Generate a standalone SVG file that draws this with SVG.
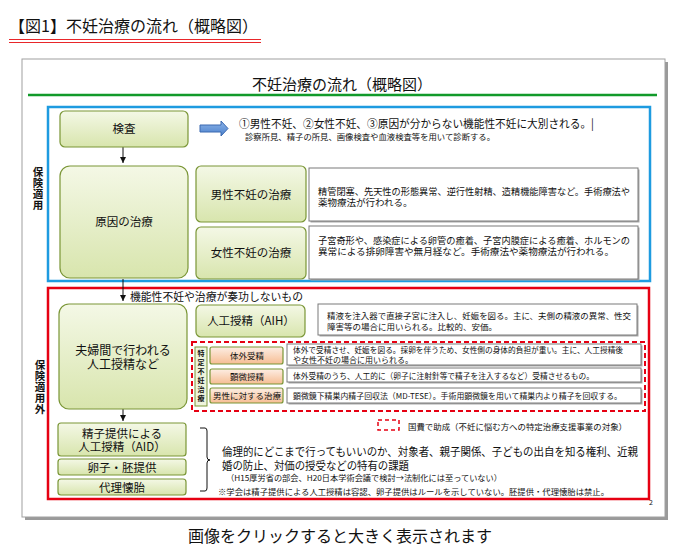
<svg xmlns="http://www.w3.org/2000/svg" width="690" height="550" viewBox="0 0 690 550">
<style>
text{font-family:"Noto Sans CJK JP","Noto Sans CJK SC",sans-serif;fill:#111}
.node{fill:url(#gGreen);stroke:#7a9636;stroke-width:1.2}
.orange{fill:url(#gOrange);stroke:#7a9636;stroke-width:1.2}
.desc{fill:#fff;stroke:#7a7a7a;stroke-width:1}
.shadow{fill:#a8a8a8}
.lbl{font-size:11.5px;text-anchor:middle}
.d{font-size:9.5px}
.s{font-size:8px}
.side{font-size:10.5px;font-weight:bold;writing-mode:vertical-rl;letter-spacing:0.5px}
.conn{stroke:#111;stroke-width:1;fill:none;marker-end:url(#ah)}
</style>
<defs>
<linearGradient id="gGreen" x1="0" y1="0" x2="0" y2="1">
<stop offset="0" stop-color="#f4f8e6"/><stop offset="1" stop-color="#d8e5ad"/>
</linearGradient>
<linearGradient id="gOrange" x1="0" y1="0" x2="0" y2="1">
<stop offset="0" stop-color="#fdeee4"/><stop offset="1" stop-color="#f6bd93"/>
</linearGradient>
<linearGradient id="gBlue" x1="0" y1="0" x2="0" y2="1">
<stop offset="0" stop-color="#8db4e8"/><stop offset="1" stop-color="#4a80cc"/>
</linearGradient>
<marker id="ah" markerWidth="8" markerHeight="8" refX="6" refY="3" orient="auto" markerUnits="userSpaceOnUse">
<path d="M0,0 L6,3 L0,6 Z" fill="#111"/>
</marker>
</defs>
<rect width="690" height="550" fill="#fff"/>

<g id="pageTitle">
<text x="9" y="32" style="font-size:16px">【図1】不妊治療の流れ（概略図）</text>
<line x1="9" y1="39.5" x2="261" y2="39.5" stroke="#e8262a" stroke-width="1"/>
<line x1="9" y1="42.5" x2="261" y2="42.5" stroke="#e8262a" stroke-width="1"/>
</g>

<g id="frame">
<rect x="25" y="62" width="643" height="458" fill="#9a9a9a"/>
<rect x="22" y="59" width="643" height="458" fill="#fff" stroke="#a0a0a0" stroke-width="1"/>
<text x="342" y="90" style="font-size:15px" text-anchor="middle">不妊治療の流れ（概略図）</text>
<line x1="28" y1="95" x2="657" y2="95" stroke="#119a2a" stroke-width="2.5"/>
<text x="649" y="505" style="font-size:7px">2</text>
</g>

<g id="insured">
<rect x="48" y="107" width="602" height="174" fill="none" stroke="#1e9be0" stroke-width="2.5"/>
<text class="side" x="38" y="166.5">保険適用</text>
</g>
<g id="uninsured">
<rect x="48" y="288" width="601" height="211" fill="none" stroke="#e60012" stroke-width="2.5"/>
<text class="side" x="40" y="359.5">保険適用外</text>
</g>

<g id="connectors">
<line class="conn" x1="123" y1="147" x2="123" y2="163"/>
<line class="conn" x1="123" y1="279" x2="123" y2="301"/>
<line class="conn" x1="123" y1="409" x2="123" y2="421"/>
<path d="M200,125 H221 V121 L228,128.5 L221,136 V132 H200 Z" fill="url(#gBlue)" stroke="#3a68b0" stroke-width="1"/>
<path d="M200,428 H205 Q207,428 207,431 V457 Q207,460 210,460 Q207,460 207,463 V488 Q207,491 205,491 H200" fill="none" stroke="#111" stroke-width="1"/>
</g>

<g id="kensa">
<rect class="node" x="60" y="111" width="128" height="36" rx="5"/>
<text class="lbl" x="124" y="133">検査</text>
</g>
<g id="kensaText">
<text x="239" y="128" style="font-size:11.5px" textLength="355" lengthAdjust="spacingAndGlyphs">①男性不妊、②女性不妊、③原因が分からない機能性不妊に大別される。|</text>
<text x="245" y="140" class="s" textLength="250" lengthAdjust="spacingAndGlyphs">診察所見、精子の所見、画像検査や血液検査等を用いて診断する。</text>
</g>

<g id="genin">
<rect class="node" x="60" y="166" width="128" height="112" rx="10"/>
<text class="lbl" x="124" y="226">原因の治療</text>
</g>
<g id="dansei">
<rect class="node" x="196" y="166" width="110" height="56" rx="5"/>
<text class="lbl" x="251" y="199">男性不妊の治療</text>
</g>
<g id="josei">
<rect class="node" x="196" y="227" width="110" height="52" rx="5"/>
<text class="lbl" x="251" y="257">女性不妊の治療</text>
</g>
<g id="danseiDesc">
<rect class="shadow" x="310.5" y="169.5" width="329" height="53"/>
<rect class="desc" x="309" y="168" width="329" height="53"/>
<text class="d" x="318" y="195" textLength="312" lengthAdjust="spacingAndGlyphs">精管閉塞、先天性の形態異常、逆行性射精、造精機能障害など。手術療法や</text>
<text class="d" x="318" y="206">薬物療法が行われる。</text>
</g>
<g id="joseiDesc">
<rect class="shadow" x="310.5" y="227.5" width="329" height="53"/>
<rect class="desc" x="309" y="226" width="329" height="53"/>
<text class="d" x="318" y="244" textLength="312" lengthAdjust="spacingAndGlyphs">子宮奇形や、感染症による卵管の癒着、子宮内膜症による癒着、ホルモンの</text>
<text class="d" x="318" y="255" textLength="296" lengthAdjust="spacingAndGlyphs">異常による排卵障害や無月経など。手術療法や薬物療法が行われる。</text>
</g>

<text x="130" y="301" style="font-size:11px" textLength="173" lengthAdjust="spacingAndGlyphs">機能性不妊や治療が奏功しないもの</text>

<g id="fuufu">
<rect class="node" x="59" y="304" width="128" height="105" rx="10"/>
<text class="lbl" style="font-size:12px" x="123" y="355">夫婦間で行われる</text>
<text class="lbl" style="font-size:12px" x="123" y="369">人工授精など</text>
</g>
<g id="aih">
<rect class="node" x="196" y="305" width="109" height="32" rx="5"/>
<text class="lbl" x="251" y="325">人工授精（AIH）</text>
</g>
<g id="aihDesc">
<rect class="shadow" x="319.5" y="305.5" width="319" height="31"/>
<rect class="desc" x="318" y="304" width="319" height="31"/>
<text class="s" style="font-size:8.5px" x="327" y="319" textLength="304" lengthAdjust="spacingAndGlyphs">精液を注入器で直接子宮に注入し、妊娠を図る。主に、夫側の精液の異常、性交</text>
<text class="s" style="font-size:8.5px" x="327" y="330">障害等の場合に用いられる。比較的、安価。</text>
</g>

<g id="tokutei">
<rect x="192" y="342" width="453" height="69" fill="none" stroke="#e60012" stroke-width="2" stroke-dasharray="5,3"/>
<rect x="195" y="347" width="12" height="59" fill="#eef4dc" stroke="#7a9636" stroke-width="1"/>
<text x="201" y="349.5" style="font-size:7px;font-weight:bold;writing-mode:vertical-rl;letter-spacing:2px">特定不妊治療</text>
</g>
<g id="taigai">
<rect class="orange" x="210" y="347" width="73" height="17" rx="2"/>
<text class="lbl" style="font-size:8.5px" x="247" y="359">体外受精</text>
<rect class="shadow" x="288.5" y="345.5" width="354" height="21"/>
<rect class="desc" x="287" y="344" width="354" height="21"/>
<text class="s" x="293" y="353" textLength="330" lengthAdjust="spacingAndGlyphs">体外で受精させ、妊娠を図る。採卵を伴うため、女性側の身体的負担が重い。主に、人工授精後</text>
<text class="s" x="293" y="363">や女性不妊の場合に用いられる。</text>
</g>
<g id="kenbi">
<rect class="orange" x="210" y="369" width="73" height="15" rx="2"/>
<text class="lbl" style="font-size:8.5px" x="247" y="380">顕微授精</text>
<rect class="shadow" x="288.5" y="369.5" width="354" height="14"/>
<rect class="desc" x="287" y="368" width="354" height="14"/>
<text class="s" x="293" y="379" textLength="301" lengthAdjust="spacingAndGlyphs">体外受精のうち、人工的に（卵子に注射針等で精子を注入するなど）受精させるもの。</text>
</g>
<g id="danseiChiryo">
<rect class="orange" x="210" y="388" width="73" height="15" rx="2"/>
<text class="lbl" style="font-size:8.5px" x="247" y="399">男性に対する治療</text>
<rect class="shadow" x="288.5" y="389.5" width="354" height="15"/>
<rect class="desc" x="287" y="388" width="354" height="15"/>
<text class="s" x="293" y="399" textLength="329" lengthAdjust="spacingAndGlyphs">顕微鏡下精巣内精子回収法（MD-TESE）。手術用顕微鏡を用いて精巣内より精子を回収する。</text>
</g>

<g id="legend">
<rect x="378" y="420" width="21" height="10" fill="none" stroke="#e60012" stroke-width="1.5" stroke-dasharray="4,3"/>
<text x="408" y="430" style="font-size:8.5px" textLength="219" lengthAdjust="spacingAndGlyphs">国費で助成（不妊に悩む方への特定治療支援事業の対象）</text>
</g>

<g id="aid">
<rect class="node" x="58" y="423" width="128" height="33" rx="3"/>
<text class="lbl" style="font-size:11.5px" x="122" y="438">精子提供による</text>
<text class="lbl" style="font-size:11.5px" x="122" y="451">人工授精（AID）</text>
</g>
<g id="ranshi">
<rect class="node" x="58" y="459" width="128" height="16" rx="3"/>
<text class="lbl" style="font-size:11.5px" x="122" y="471.5">卵子・胚提供</text>
</g>
<g id="dairi">
<rect class="node" x="58" y="479" width="128" height="16" rx="3"/>
<text class="lbl" style="font-size:11.5px" x="122" y="491.5">代理懐胎</text>
</g>

<g id="rinri">
<text x="222" y="455.5" style="font-size:11.5px" textLength="416" lengthAdjust="spacingAndGlyphs">倫理的にどこまで行ってもいいのか、対象者、親子関係、子どもの出自を知る権利、近親</text>
<text x="222" y="470" style="font-size:11.5px" textLength="187" lengthAdjust="spacingAndGlyphs">婚の防止、対価の授受などの特有の課題</text>
<text x="226" y="480.5" class="s" textLength="276" lengthAdjust="spacingAndGlyphs">（H15厚労省の部会、H20日本学術会議で検討→法制化には至っていない）</text>
<text x="218" y="494.5" class="s" textLength="391" lengthAdjust="spacingAndGlyphs">※学会は精子提供による人工授精は容認、卵子提供はルールを示していない。胚提供・代理懐胎は禁止。</text>
</g>

<text x="340" y="542" style="font-size:16px" text-anchor="middle">画像をクリックすると大きく表示されます</text>
</svg>
